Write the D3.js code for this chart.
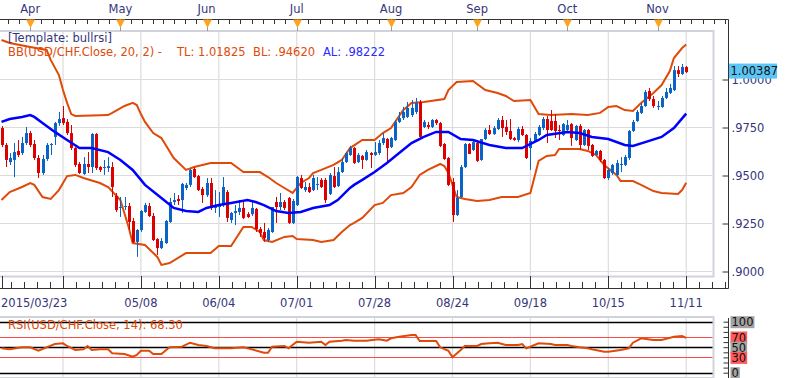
<!DOCTYPE html>
<html><head><meta charset="utf-8">
<script src="https://cdn.jsdelivr.net/npm/d3@7"></script>
<style>
body{margin:0;background:#fff;}
svg{display:block;font-family:"DejaVu Sans",Verdana,sans-serif;font-size:11.5px;}
</style></head>
<body><svg id="c" width="786" height="378"></svg>
<script>
// ---------------- DATA ----------------
const open = [
.9747,.9659,.9570,.9581,.9628,.9617,.9669,.9721,.9664,.9591,
.9513,.9586,.9659,.9701,.9773,.9799,.9779,.9721,.9643,.9560,
.9508,.9560,.9544,.9716,.9544,.9539,.9539,.9544,.9393,.9331,
.9336,.9341,.9263,.9154,.9216,.9310,.9341,.9289,.9169,.9122,
.9148,.9258,.9362,.9378,.9372,.9435,.9451,.9534,.9497,.9430,
.9398,.9461,.9331,.9336,.9346,.9414,.9268,.9305,.9310,.9331,
.9299,.9299,.9326,.9221,.9206,.9164,.9206,.9362,.9336,.9362,
.9383,.9253,.9346,.9487,.9424,.9440,.9424,.9451,.9477,.9477,
.9404,.9497,.9445,.9518,.9570,.9607,.9643,.9570,.9602,.9581,
.9617,.9607,.9617,.9669,.9690,.9648,.9685,.9779,.9799,.9805,
.9815,.9831,.9883,.9753,.9763,.9753,.9789,.9773,.9664,.9591,
.9466,.9294,.9388,.9544,.9664,.9633,.9669,.9581,.9690,.9737,
.9716,.9742,.9789,.9753,.9732,.9695,.9685,.9742,.9711,.9643,
.9680,.9711,.9747,.9794,.9784,.9784,.9737,.9711,.9737,.9768,
.9685,.9758,.9659,.9737,.9659,.9607,.9628,.9581,.9487,.9513,
.9503,.9555,.9555,.9591,.9732,.9784,.9826,.9862,.9940,.9898,
.9857,.9857,.9904,.9930,.9945,1.0049,1.0029,1.0065];
const high = [
.9758,.9669,.9617,.9669,.9685,.9701,.9753,.9732,.9685,.9607,
.9607,.9669,.9669,.9779,.9831,.9862,.9794,.9763,.9648,.9570,
.9596,.9622,.9721,.9721,.9549,.9581,.9596,.9570,.9409,.9388,
.9388,.9357,.9279,.9221,.9320,.9357,.9357,.9305,.9174,.9174,
.9268,.9383,.9409,.9398,.9461,.9461,.9534,.9544,.9503,.9440,
.9487,.9487,.9424,.9414,.9492,.9424,.9310,.9346,.9372,.9372,
.9310,.9372,.9331,.9232,.9253,.9227,.9336,.9388,.9409,.9372,
.9388,.9378,.9497,.9503,.9466,.9461,.9503,.9492,.9487,.9487,
.9513,.9544,.9544,.9591,.9622,.9654,.9648,.9617,.9607,.9633,
.9622,.9674,.9685,.9721,.9695,.9701,.9789,.9831,.9857,.9883,
.9893,.9904,.9893,.9789,.9779,.9794,.9794,.9779,.9669,.9596,
.9487,.9424,.9555,.9669,.9669,.9680,.9674,.9690,.9747,.9763,
.9758,.9799,.9810,.9789,.9794,.9701,.9753,.9758,.9716,.9695,
.9727,.9763,.9805,.9810,.9841,.9820,.9763,.9773,.9789,.9773,
.9763,.9768,.9742,.9742,.9664,.9633,.9633,.9586,.9539,.9560,
.9581,.9596,.9607,.9737,.9789,.9841,.9878,.9945,.9956,.9914,
.9888,.9914,.9956,.9977,1.0070,1.0070,1.0081,1.0070];
const low = [
.9648,.9544,.9555,.9492,.9596,.9607,.9659,.9648,.9581,.9487,
.9503,.9576,.9607,.9659,.9758,.9763,.9711,.9633,.9544,.9508,
.9503,.9513,.9513,.9529,.9518,.9503,.9518,.9388,.9310,.9284,
.9320,.9216,.9148,.9076,.9206,.9305,.9284,.9159,.9086,.9117,
.9143,.9253,.9346,.9346,.9305,.9424,.9440,.9487,.9419,.9357,
.9388,.9320,.9305,.9284,.9336,.9258,.9253,.9242,.9294,.9273,
.9279,.9289,.9206,.9180,.9154,.9154,.9201,.9253,.9320,.9320,
.9247,.9247,.9341,.9430,.9414,.9409,.9419,.9424,.9435,.9357,
.9398,.9435,.9440,.9513,.9565,.9602,.9560,.9565,.9534,.9576,
.9539,.9602,.9607,.9659,.9565,.9643,.9680,.9773,.9789,.9799,
.9805,.9820,.9690,.9747,.9742,.9747,.9763,.9648,.9581,.9445,
.9258,.9289,.9383,.9539,.9612,.9628,.9570,.9576,.9685,.9711,
.9711,.9737,.9701,.9711,.9685,.9680,.9674,.9706,.9586,.9529,
.9674,.9706,.9737,.9669,.9732,.9695,.9685,.9706,.9732,.9654,
.9680,.9633,.9654,.9633,.9596,.9602,.9570,.9482,.9477,.9503,
.9497,.9518,.9549,.9581,.9727,.9779,.9820,.9857,.9888,.9852,
.9841,.9852,.9898,.9924,.9940,1.0013,1.0023,1.0034];
const close = [
.9659,.9581,.9591,.9622,.9607,.9669,.9721,.9659,.9591,.9513,
.9586,.9659,.9664,.9773,.9794,.9773,.9721,.9643,.9555,.9513,
.9560,.9544,.9716,.9539,.9529,.9544,.9549,.9440,.9320,.9336,
.9341,.9258,.9154,.9216,.9315,.9346,.9289,.9164,.9122,.9159,
.9263,.9362,.9372,.9367,.9456,.9451,.9529,.9492,.9424,.9398,
.9461,.9331,.9346,.9346,.9440,.9279,.9305,.9315,.9331,.9279,
.9284,.9331,.9221,.9201,.9174,.9216,.9336,.9336,.9362,.9331,
.9253,.9367,.9492,.9435,.9440,.9414,.9487,.9456,.9440,.9372,
.9503,.9440,.9518,.9570,.9617,.9643,.9565,.9607,.9581,.9622,
.9607,.9622,.9669,.9695,.9643,.9695,.9779,.9799,.9831,.9852,
.9852,.9878,.9701,.9779,.9753,.9789,.9773,.9654,.9586,.9451,
.9294,.9383,.9544,.9664,.9612,.9674,.9576,.9690,.9737,.9716,
.9747,.9789,.9747,.9727,.9690,.9685,.9742,.9711,.9591,.9680,
.9716,.9753,.9794,.9737,.9737,.9732,.9732,.9768,.9763,.9695,
.9758,.9659,.9737,.9654,.9602,.9628,.9581,.9487,.9529,.9555,
.9565,.9560,.9596,.9732,.9779,.9831,.9862,.9935,.9898,.9862,
.9862,.9904,.9935,.9956,1.0049,1.0029,1.0065,1.00387];

const upperIdx = [0,2,7,11,12,14,15,16,17,18,26,27,30,32,33,34,35,37,39,42,45,47,51,56,59,63,65,67,69,71,73,75,76,78,81,83,85,88,91,93,95,98,100,103,108,109,111,115,118,121,123,125,129,131,134,139,143,146,148,150,152,154,156,159,161,163,164,166,167];
const upperVal = [1.0206,1.0190,1.0169,1.0154,1.0102,1.0023,.9945,.9878,.9820,.9810,.9815,.9826,.9862,.9878,.9867,.9820,.9779,.9721,.9695,.9591,.9529,.9544,.9565,.9565,.9518,.9518,.9492,.9461,.9435,.9409,.9461,.9487,.9513,.9529,.9555,.9581,.9643,.9685,.9685,.9721,.9747,.9841,.9878,.9883,.9898,.9945,.9987,.9992,.9945,.9930,.9914,.9888,.9893,.9820,.9815,.9820,.9815,.9826,.9857,.9862,.9841,.9836,.9878,.9930,.9971,1.0044,1.0112,1.0164,1.01825];
const midIdx = [0,2,5,7,8,10,13,16,19,22,26,29,32,35,39,42,45,48,50,53,56,60,62,64,67,70,73,76,80,82,85,86,88,91,94,97,100,103,106,109,112,115,119,123,127,131,133,138,141,144,148,152,154,157,161,164,167];
const midVal = [.9779,.9794,.9805,.9815,.9805,.9773,.9727,.9685,.9643,.9643,.9622,.9581,.9529,.9451,.9383,.9331,.9315,.9310,.9331,.9346,.9357,.9372,.9362,.9346,.9315,.9305,.9310,.9331,.9346,.9372,.9435,.9451,.9477,.9518,.9565,.9617,.9669,.9701,.9727,.9727,.9690,.9685,.9659,.9643,.9643,.9685,.9711,.9727,.9721,.9701,.9690,.9659,.9654,.9674,.9701,.9747,.98222];
const lowerIdx = [0,2,5,7,8,10,12,14,16,18,20,24,26,29,31,32,35,38,39,41,45,51,53,56,59,61,63,64,66,69,71,72,76,78,81,83,85,86,88,91,93,95,98,100,102,104,107,108,109,111,113,116,119,122,126,129,131,133,135,136,141,143,145,147,150,151,154,156,159,161,165,166,167];
const lowerVal = [.9372,.9414,.9440,.9461,.9451,.9388,.9378,.9424,.9497,.9503,.9487,.9461,.9440,.9372,.9232,.9148,.9138,.9076,.9034,.9044,.9096,.9096,.9133,.9133,.9232,.9232,.9206,.9164,.9154,.9180,.9185,.9169,.9164,.9154,.9164,.9206,.9242,.9253,.9279,.9346,.9357,.9398,.9409,.9440,.9503,.9529,.9560,.9549,.9513,.9388,.9378,.9367,.9372,.9388,.9388,.9409,.9576,.9602,.9607,.9638,.9638,.9628,.9607,.9555,.9503,.9471,.9471,.9451,.9419,.9409,.9404,.9424,.9462];

const rsiIdx = [0,2,5,7,9,11,13,15,16,18,20,21,22,24,26,27,30,32,33,34,36,37,39,41,44,46,48,50,52,54,56,59,61,64,65,66,69,70,72,75,78,79,80,83,84,86,89,92,94,95,97,100,101,102,106,107,109,110,112,113,116,117,119,121,123,126,127,128,130,131,134,135,138,139,141,143,144,147,148,151,153,154,155,156,159,161,164,166,167];
const rsiVal = [47.8,45.9,49.8,49.8,43.1,49.8,56.3,57.6,52.4,44.5,45.9,52.4,44.5,45.9,45.9,38.0,36.7,31.4,34.7,43.1,43.1,36.7,36.7,49.8,51.0,58.8,54.3,52.4,47.8,47.8,47.8,49.8,45.9,39.2,39.2,51.0,52.4,47.8,60.8,58.8,60.8,54.3,60.8,62.7,64.1,62.7,62.7,65.5,62.7,67.5,70.6,73.9,73.9,62.2,62.2,49.8,43.1,30.2,44.5,52.4,52.4,56.3,57.6,58.8,54.3,54.3,56.3,47.8,54.3,57.6,56.3,54.3,54.3,52.4,49.8,47.8,45.9,41.2,41.2,44.5,47.8,58.8,62.7,67.5,64.1,64.1,70.6,72.0,68.3];

const dateTickIdx = [0,15,34,53,72,91,110,129,148,167];
const dateTickLabels = ["2015/03/23","","05/08","06/04","07/01","07/28","08/24","09/18","10/15","11/11"];
const monthIdx = [7,29,50,72,95,116,138,160];
const monthLabels = ["Apr","May","Jun","Jul","Aug","Sep","Oct","Nov"];
const priceTicks = [0.900,0.925,0.950,0.975,1.000];
const rsiLevels = [100,70,50,30,0];
const lastPrice = 1.00387;
const lastRsi = 68.30;

// ---------------- DRAW ----------------
const svg = d3.select("#c");
const N = close.length;
const x = d3.scaleLinear().domain([0, N-1]).range([1.5, 686.2]);
const y = d3.scaleLinear().domain([0.9, 1.0]).range([271.5, 79.5]);
const yR = d3.scaleLinear().domain([0, 100]).range([372.7, 321.7]);
const PR = 713.5, AX = 728.5;
const TXT = "#35357a", BAND = "#e04a08", UP = "#0a64c8", DN = "#dd0000", GRID = "#dcdcdc", BORDER = "#cfd4dc";
const gridIdx = dateTickIdx.slice(1);

svg.append("rect").attr("width",786).attr("height",378).attr("fill","#fff");

// main panel
svg.append("rect").attr("x",-2).attr("y",31).attr("width",PR+2).attr("height",245.5)
  .attr("fill","#fff").attr("stroke",BORDER).attr("stroke-width",2);
svg.append("clipPath").attr("id","mp").append("rect").attr("x",0).attr("y",32).attr("width",PR-1).attr("height",243.5);
const mp = svg.append("g").attr("clip-path","url(#mp)");
mp.selectAll(".vg").data(gridIdx).join("line")
  .attr("x1",d=>x(d)).attr("x2",d=>x(d)).attr("y1",32).attr("y2",276)
  .attr("stroke",GRID).attr("stroke-width",1.2);
mp.selectAll(".hg").data(priceTicks).join("line")
  .attr("x1",0).attr("x2",PR-1).attr("y1",d=>y(d)).attr("y2",d=>y(d))
  .attr("stroke",GRID).attr("stroke-width",1.2);

const line = d3.line().x(d=>x(d[0])).y(d=>y(d[1]));
const zipped = (a,b)=>a.map((v,i)=>[v,b[i]]);
mp.append("path").attr("d",line(zipped(upperIdx,upperVal))).attr("fill","none").attr("stroke",BAND).attr("stroke-width",2);
mp.append("path").attr("d",line(zipped(lowerIdx,lowerVal))).attr("fill","none").attr("stroke",BAND).attr("stroke-width",2);

// candles
const idx = d3.range(N);
const cg = mp.append("g");
cg.selectAll(".w").data(idx).join("line")
  .attr("x1",i=>Math.round(x(i))+0.5).attr("x2",i=>Math.round(x(i))+0.5)
  .attr("y1",i=>y(high[i])).attr("y2",i=>y(low[i]))
  .attr("stroke",i=>close[i]>=open[i]?UP:DN).attr("stroke-width",1);
cg.selectAll(".b").data(idx).join("rect")
  .attr("x",i=>Math.round(x(i))-1).attr("width",3)
  .attr("y",i=>y(Math.max(open[i],close[i])))
  .attr("height",i=>Math.max(1,Math.abs(y(open[i])-y(close[i]))))
  .attr("fill",i=>close[i]>=open[i]?UP:DN);

mp.append("path").attr("d",line(zipped(midIdx,midVal))).attr("fill","none").attr("stroke","#0000ff").attr("stroke-width",2.5);

// legend
svg.append("text").attr("x",8).attr("y",38).attr("dy","0.35em").attr("fill",TXT).text("[Template: bullrsi]");
const lg = svg.append("text").attr("y",52).attr("dy","0.35em");
lg.append("tspan").attr("x",8).attr("fill",BAND).text("BB(USD/CHF.Close, 20, 2) -");
lg.append("tspan").attr("x",177).attr("fill",BAND).text("TL: " + upperVal[upperVal.length-1].toFixed(5));
lg.append("tspan").attr("x",253).attr("fill",BAND).text("BL: " + lowerVal[lowerVal.length-1].toFixed(5).replace(/^0/,""));
lg.append("tspan").attr("x",323).attr("fill","#2a2aff").text("AL: " + midVal[midVal.length-1].toFixed(5).replace(/^0/,""));

// top axis
svg.append("line").attr("x1",0).attr("x2",AX).attr("y1",19.5).attr("y2",19.5).attr("stroke","#333");
const mx = monthIdx.map(x);
let topTicks = [];
for (let k=0;k<mx.length-1;k++) for (let j=1;j<8;j++) topTicks.push(mx[k]+j*(mx[k+1]-mx[k])/8);
const s0=(mx[1]-mx[0])/8; for(let t=mx[0]-s0;t>0;t-=s0) topTicks.push(t);
const s1=(mx[mx.length-1]-mx[mx.length-2])/8; for(let t=mx[mx.length-1]+s1;t<AX;t+=s1) topTicks.push(t);
svg.selectAll(".tt").data(topTicks).join("line")
  .attr("x1",d=>Math.round(d)+0.5).attr("x2",d=>Math.round(d)+0.5).attr("y1",19.5).attr("y2",24)
  .attr("stroke","#333");
svg.selectAll(".mt").data(monthIdx).join("line")
  .attr("x1",d=>Math.round(x(d))+0.5).attr("x2",d=>Math.round(x(d))+0.5).attr("y1",19.5).attr("y2",31)
  .attr("stroke","#999");
svg.selectAll(".tri").data(monthIdx).join("path")
  .attr("d",d=>{const c=Math.round(x(d))+0.5; return `M${c-4.5},19.5L${c+4.5},19.5L${c},28Z`;})
  .attr("fill","#ffa41c");
svg.selectAll(".ml").data(monthIdx).join("text")
  .attr("x",d=>x(d)).attr("y",9).attr("dy","0.35em").attr("text-anchor","middle").attr("fill",TXT)
  .text((d,i)=>monthLabels[i]);

// bottom axis
svg.append("line").attr("x1",0).attr("x2",AX).attr("y1",288.5).attr("y2",288.5).attr("stroke","#333");
let minorIdx = [];
for (let k=1;k<dateTickIdx.length-1;k++) for (let j=1;j<6;j++) minorIdx.push(dateTickIdx[k]+j*19/6);
for (let t=dateTickIdx[1]-19/6;t>0;t-=19/6) minorIdx.push(t);
for (let t=dateTickIdx[dateTickIdx.length-1]+19/6;x(t)<AX;t+=19/6) minorIdx.push(t);
svg.selectAll(".bm").data(minorIdx).join("line")
  .attr("x1",d=>Math.round(x(d))+0.5).attr("x2",d=>Math.round(x(d))+0.5).attr("y1",282).attr("y2",288.5).attr("stroke","#333");
svg.selectAll(".bM").data(dateTickIdx).join("line")
  .attr("x1",d=>Math.round(x(d))+0.5).attr("x2",d=>Math.round(x(d))+0.5).attr("y1",276).attr("y2",288.5).attr("stroke","#333");
svg.selectAll(".dl").data(dateTickIdx).join("text")
  .attr("x",(d,i)=>i===0?1:x(d)).attr("y",303).attr("dy","0.35em")
  .attr("text-anchor",(d,i)=>i===0?"start":"middle").attr("fill",TXT)
  .text((d,i)=>dateTickLabels[i]);

// right price axis
svg.append("line").attr("x1",AX).attr("x2",AX).attr("y1",19.5).attr("y2",288.5).attr("stroke","#333");
const minorP = d3.range(-2,42).map(k=>0.9+k*0.003125).filter(v=>y(v)>21&&y(v)<287);
const gp = svg.append("g").attr("transform",`translate(${AX},0)`);
gp.call(d3.axisRight(y).tickValues(minorP).tickSizeInner(-3.5).tickSizeOuter(0).tickFormat(""));
gp.call(d3.axisRight(y).tickValues(priceTicks).tickSizeInner(-6).tickSizeOuter(0).tickPadding(3)
  .tickFormat(v=>v>=1?v.toFixed(4):v.toFixed(4).replace(/^0/,"")));
gp.selectAll(".domain").remove();
gp.selectAll("line").attr("stroke","#333");
gp.selectAll("text").attr("fill",TXT).style("font-family","DejaVu Sans, Verdana, sans-serif").style("font-size","11.5px");
// current price label
const lp = svg.append("g");
lp.append("rect").attr("x",AX+0.5).attr("y",y(lastPrice)-8.5).attr("width",48).attr("height",15).attr("fill","#5bc6f6");
lp.append("text").attr("x",AX+2).attr("y",y(lastPrice)-1).attr("dy","0.35em").attr("fill","#111").text(lastPrice.toFixed(5));

// RSI panel
svg.append("rect").attr("x",-2).attr("y",317).attr("width",PR+2).attr("height",61)
  .attr("fill","#fff").attr("stroke",BORDER).attr("stroke-width",2);
svg.selectAll(".rvg").data(gridIdx).join("line")
  .attr("x1",d=>x(d)).attr("x2",d=>x(d)).attr("y1",318).attr("y2",378)
  .attr("stroke",GRID).attr("stroke-width",1.2);
svg.selectAll(".rl").data(rsiLevels).join("line")
  .attr("x1",0).attr("x2",PR-1).attr("y1",d=>Math.round(yR(d))+0.5).attr("y2",d=>Math.round(yR(d))+0.5)
  .attr("stroke",d=>(d===70||d===30)?"#ff4848":"#000").attr("stroke-width",d=>(d===70||d===30)?1:1.3);
const rl = d3.line().x(d=>x(d[0])).y(d=>yR(d[1]));
svg.append("path").attr("d",rl(zipped(rsiIdx,rsiVal))).attr("fill","none").attr("stroke",BAND).attr("stroke-width",2);
svg.append("text").attr("x",8).attr("y",325).attr("dy","0.35em").attr("fill",BAND)
  .text("RSI(USD/CHF.Close, 14): " + lastRsi.toFixed(2));

// RSI axis
svg.append("line").attr("x1",AX).attr("x2",AX).attr("y1",318).attr("y2",378).attr("stroke","#333");
const gr = svg.append("g").attr("transform",`translate(${AX},0)`);
gr.call(d3.axisRight(yR).tickValues(d3.range(0,101,10)).tickSizeInner(-5).tickSizeOuter(0).tickFormat(""));
gr.selectAll(".domain").remove();
gr.selectAll("line").attr("stroke","#333");
rsiLevels.forEach(v=>{
  const g = svg.append("g");
  const t = g.append("text").attr("x",AX+3).attr("y",yR(v)+0.5).attr("dy","0.35em").attr("fill","#111").text(String(v));
  const w = t.node().getComputedTextLength();
  g.insert("rect","text").attr("x",AX+2).attr("y",yR(v)-5.5).attr("width",w+2).attr("height",12)
    .attr("fill",(v===70||v===30)?"#ff5a5a":"#a3a3a3");
});
</script>
</body></html>
